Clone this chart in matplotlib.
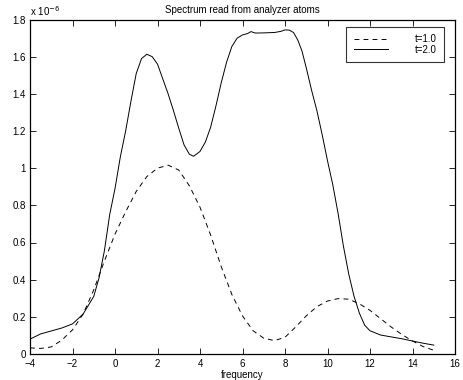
import matplotlib
matplotlib.use("Agg")
import matplotlib.pyplot as plt
from matplotlib.ticker import FuncFormatter

plt.rcParams['font.family'] = ['Liberation Sans', 'DejaVu Sans']
plt.rcParams['lines.scale_dashes'] = False

# t=1.0 (dashed), values in units of 1e-6
x_t1 = [-4, -3.5, -3, -2.5, -2, -1.5, -1, -0.5, 0, 0.5, 1, 1.5, 2, 2.5, 3, 3.5, 4, 4.5,
        5, 5.5, 6, 6.5, 7, 7.5, 8, 8.5, 9, 9.5, 10, 10.5, 11, 11.5, 12, 12.5, 13, 13.5,
        14, 14.5, 15]
y_t1 = [0.033, 0.030, 0.038, 0.075, 0.13, 0.215, 0.345, 0.50, 0.645, 0.765, 0.875, 0.955,
        1.00, 1.016, 0.99, 0.905, 0.79, 0.64, 0.47, 0.32, 0.205, 0.125, 0.085, 0.072, 0.09,
        0.145, 0.205, 0.255, 0.285, 0.298, 0.295, 0.27, 0.235, 0.19, 0.145, 0.105, 0.07,
        0.04, 0.02]

# t=2.0 (solid), values in units of 1e-6
x_t2 = [-4, -3.5, -3, -2.5, -2, -1.5, -1, -0.75, -0.5, -0.25, 0, 0.25, 0.5, 0.75, 1, 1.25,
        1.5, 1.75, 2, 2.25, 2.5, 2.75, 3, 3.25, 3.5, 3.7, 4, 4.25, 4.5, 4.75, 5, 5.25, 5.5,
        5.75, 6, 6.25, 6.4, 6.6, 7, 7.5, 7.8, 8, 8.2, 8.4, 8.6, 8.8, 9, 9.25, 9.5, 9.75, 10,
        10.25, 10.5, 10.75, 11, 11.25, 11.5, 11.75, 12, 12.5, 13, 13.5, 14, 14.5, 15]
y_t2 = [0.08, 0.108, 0.124, 0.14, 0.162, 0.215, 0.31, 0.41, 0.555, 0.75, 0.89, 1.06, 1.2,
        1.36, 1.51, 1.59, 1.613, 1.60, 1.56, 1.48, 1.40, 1.31, 1.215, 1.125, 1.075, 1.064,
        1.09, 1.14, 1.22, 1.335, 1.46, 1.57, 1.655, 1.70, 1.717, 1.725, 1.735, 1.727, 1.728,
        1.73, 1.736, 1.744, 1.743, 1.73, 1.69, 1.63, 1.54, 1.42, 1.31, 1.18, 1.04, 0.91,
        0.755, 0.58, 0.43, 0.31, 0.22, 0.155, 0.125, 0.102, 0.092, 0.082, 0.07, 0.058, 0.048]

labels = ["t=1.0", "t=2.0"]
scale = 1e-6
xticks = list(range(-4, 17, 2))
yticks = [0, 0.2, 0.4, 0.6, 0.8, 1.0, 1.2, 1.4, 1.6, 1.8]

fig = plt.figure(figsize=(4.63, 3.80), dpi=100)
ax = fig.add_axes([30/463, 1-354/380, 425/463, (354-19.5)/380])

ax.plot(x_t1, [v*scale for v in y_t1], color='black', lw=0.7, linestyle=(0, (3.5, 3)), label=labels[0])
ax.plot(x_t2, [v*scale for v in y_t2], color='black', lw=0.7, label=labels[1])

ax.set_xlim(-4, 16)
ax.set_ylim(0, 1.8e-6)
ax.set_xticks(xticks)
ax.set_yticks([v*scale for v in yticks])
ax.yaxis.set_major_formatter(FuncFormatter(lambda v, p: ('%g' % round(v/scale, 6))))
ax.tick_params(direction='in', top=True, right=True, labelsize=7, length=4, width=0.6)
ax.tick_params(axis='y', pad=3)
ax.tick_params(axis='x', pad=3.5)
for s in ax.spines.values():
    s.set_linewidth(0.9)

ax.text(0.0, 1.005, r'x 10$^{-6}$', transform=ax.transAxes, fontsize=7, ha='left', va='bottom')
ax.set_title("Spectrum read from analyzer atoms", fontsize=7, pad=5)
ax.set_xlabel("frequency", fontsize=7, labelpad=1)

leg = ax.legend(loc='upper right', bbox_to_anchor=(444/463, 1-27/380),
                bbox_transform=fig.transFigure, borderaxespad=0,
                fontsize=7, handlelength=3.5, frameon=True, fancybox=False,
                edgecolor='black', handletextpad=2.8,
                borderpad=0.75, labelspacing=0.05)
leg.get_frame().set_linewidth(0.8)

fig.savefig("out.png", dpi=100)
